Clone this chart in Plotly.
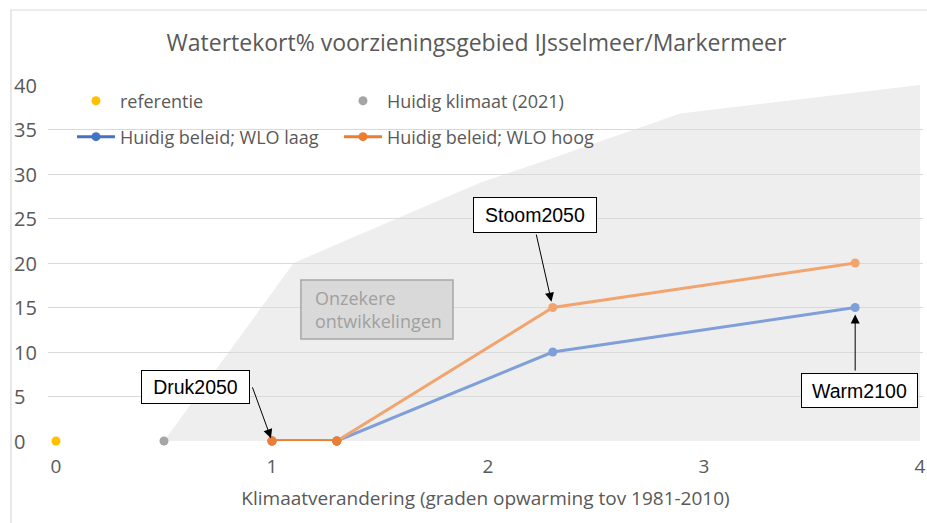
import plotly.graph_objects as go

# ---- data ----
ref_x = [0.0]
ref_y = [0]
huidig_x = [0.5]
huidig_y = [0]
wlo_x = [1.0, 1.3, 2.3, 3.7]
wlo_laag = [0, 0, 10, 15]
wlo_hoog = [0, 0, 15, 20]
band_x = [0.5, 1.1, 1.96, 2.3, 2.89, 4.0, 4.0]
band_y = [0, 20, 29, 31.8, 36.8, 40, 0]
y_ticks = [0, 5, 10, 15, 20, 25, 30, 35, 40]
x_ticks = [0, 1, 2, 3, 4]

TXT = "#595959"
FONT = "Open Sans"
BLUE, ORANGE = "#4472C4", "#ED7D31"
LBLUE, LORANGE = "#7F9FD9", "#F2A46E"

fig = go.Figure()

# band of uncertain developments (shape below gridlines)
path = "M " + " L ".join(f"{x},{y}" for x, y in zip(band_x, band_y)) + " Z"
fig.add_shape(type="path", path=path, xref="x", yref="y",
              fillcolor="#EEEEEE", line=dict(width=0), layer="below")

fig.add_trace(go.Scatter(x=ref_x, y=ref_y, mode="markers", name="referentie",
                         marker=dict(color="#FFC000", size=9), legend="legend",
                         cliponaxis=False))
fig.add_trace(go.Scatter(x=huidig_x, y=huidig_y, mode="markers", name="Huidig klimaat (2021)",
                         marker=dict(color="#A5A5A5", size=9), legend="legend",
                         cliponaxis=False))
# full light lines
fig.add_trace(go.Scatter(x=wlo_x, y=wlo_laag, mode="lines+markers", showlegend=False,
                         line=dict(color=LBLUE, width=3), marker=dict(color=LBLUE, size=9),
                         cliponaxis=False))
fig.add_trace(go.Scatter(x=wlo_x[:2], y=wlo_laag[:2], mode="lines+markers",
                         name="Huidig beleid; WLO laag", legend="legend2",
                         line=dict(color=BLUE, width=3), marker=dict(color=BLUE, size=9),
                         cliponaxis=False))
fig.add_trace(go.Scatter(x=wlo_x, y=wlo_hoog, mode="lines+markers", showlegend=False,
                         line=dict(color=LORANGE, width=3), marker=dict(color=LORANGE, size=9),
                         cliponaxis=False))
fig.add_trace(go.Scatter(x=wlo_x[:2], y=wlo_hoog[:2], mode="lines+markers",
                         name="Huidig beleid; WLO hoog", legend="legend2",
                         line=dict(color=ORANGE, width=3), marker=dict(color=ORANGE, size=9),
                         cliponaxis=False))

annotations = []
# y tick labels (left aligned)
for v in y_ticks:
    annotations.append(dict(x=-0.0415, xref="paper", xanchor="left", y=v, yref="y",
                            yanchor="middle", text=str(v), showarrow=False,
                            font=dict(family=FONT, size=20, color=TXT)))

# label boxes
box_font = dict(family="Liberation Sans, Arial", size=19.5, color="black")
for txt, x, y, w, h in [("Druk2050", 0.648, 6.07, 105, 30),
                        ("Stoom2050", 2.218, 25.4, 120, 32),
                        ("Warm2100", 3.72, 5.7, 113, 31)]:
    annotations.append(dict(x=x, y=y, xref="x", yref="y", text=txt, showarrow=False,
                            bgcolor="white", bordercolor="black", borderwidth=1,
                            borderpad=1, width=w, height=h, font=box_font))
# arrows
for hx, hy, tx, ty, so in [(wlo_x[0], wlo_hoog[0], 0.907, 6.2, 3),
                           (wlo_x[2], wlo_hoog[2], 2.222, 23.37, 6),
                           (wlo_x[3], wlo_laag[3], 3.7, 7.75, 7)]:
    annotations.append(dict(x=hx, y=hy, xref="x", yref="y", ax=tx, ay=ty,
                            axref="x", ayref="y", text="", showarrow=True,
                            arrowhead=2, arrowsize=1.8, arrowwidth=1,
                            arrowcolor="black", standoff=so))

# uncertain developments box
fig.add_shape(type="rect", x0=1.134, x1=1.838, y0=11.46, y1=18.09, xref="x", yref="y",
              fillcolor="#D9D9D9", line=dict(color="#A6A6A6", width=1.5), layer="above")
annotations.append(dict(x=1.19, y=14.78, xref="x", yref="y", xanchor="left",
                        yanchor="middle", align="left", showarrow=False,
                        text="Onzekere<br>ontwikkelingen",
                        font=dict(family=FONT, size=18, color="#A0A0A0")))

# outer chart border (left/top)
fig.add_shape(type="path", xref="paper", yref="paper",
              path="M -0.0423,-0.24 L -0.0423,1.2107 L 1.01,1.2107",
              line=dict(color="#D9D9D9", width=1.2))

fig.update_layout(
    width=927, height=523,
    margin=dict(l=48, r=4, t=85, b=82, autoexpand=False),
    paper_bgcolor="white", plot_bgcolor="white",
    title=dict(text="Watertekort% voorzieningsgebied IJsselmeer/Markermeer",
               x=0.514, xanchor="center", y=0.918, yanchor="middle",
               font=dict(family=FONT, size=23, color=TXT)),
    xaxis=dict(range=[-0.037, 4.014], tickvals=x_ticks, showgrid=False, zeroline=False,
               showline=False, ticks="outside", ticklen=8, tickcolor="rgba(0,0,0,0)",
               automargin=False,
               tickfont=dict(family=FONT, size=19, color=TXT),
               title=dict(text="Klimaatverandering (graden opwarming tov 1981-2010)",
                          font=dict(family=FONT, size=19, color=TXT), standoff=13)),
    yaxis=dict(range=[0, 40], tickvals=y_ticks, showticklabels=False, showgrid=True,
               automargin=False,
               gridcolor="#D9D9D9", gridwidth=1, zeroline=False, showline=False),
    legend=dict(orientation="h", x=0.0274, xanchor="left", y=0.955, yanchor="middle",
                entrywidth=214, entrywidthmode="pixels", itemwidth=38,
                bgcolor="rgba(0,0,0,0)",
                font=dict(family=FONT, size=18, color=TXT)),
    legend2=dict(orientation="h", x=0.0274, xanchor="left", y=0.854, yanchor="middle",
                 entrywidth=214, entrywidthmode="pixels", itemwidth=38,
                 bgcolor="rgba(0,0,0,0)",
                 font=dict(family=FONT, size=18, color=TXT)),
    annotations=annotations,
    showlegend=True,
)

fig.write_html("out.html",
               config={"displayModeBar": False},
               post_script="document.body.style.margin='0';"
                           "document.documentElement.style.overflow='hidden';")
